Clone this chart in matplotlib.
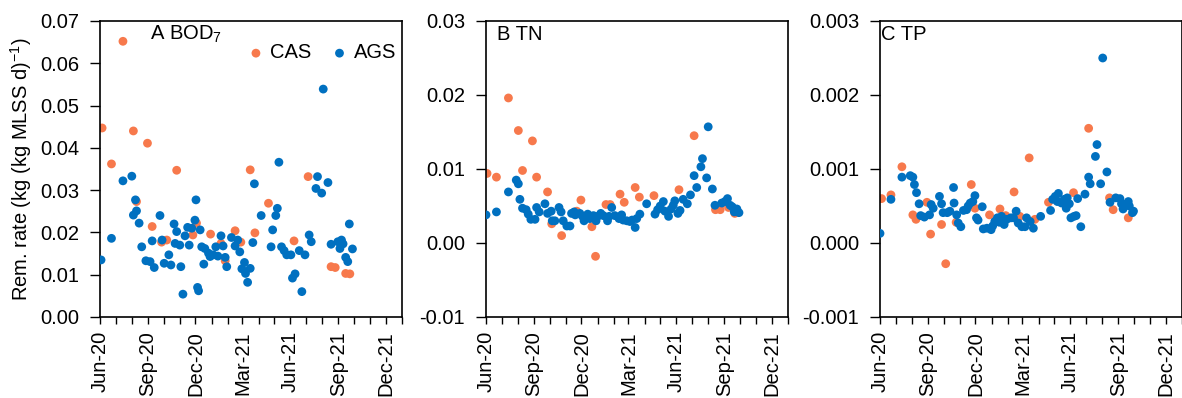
import numpy as np
import matplotlib
matplotlib.use("Agg")
import matplotlib.pyplot as plt
import matplotlib.dates as mdates
from matplotlib.ticker import FormatStrFormatter

plt.rcParams['font.family'] = ['Liberation Sans', 'DejaVu Sans']
plt.rcParams['mathtext.fontset'] = 'custom'
plt.rcParams['mathtext.rm'] = 'Liberation Sans'
plt.rcParams['mathtext.default'] = 'regular'

start = np.datetime64('2020-06-01')

# days since 1 Jun 2020, removal rate
bod_cas_day = [4, 22, 44, 64, 70, 91, 100, 118, 128, 147, 178, 185, 212, 232, 240, 259,
               270, 288, 297, 323, 372, 399, 443, 451, 471, 479]
bod_cas_val = [0.0447, 0.0362, 0.0652, 0.0440, 0.0273, 0.0411, 0.0214, 0.0177, 0.0182,
               0.0347, 0.0194, 0.0222, 0.0196, 0.0174, 0.0133, 0.0204, 0.0177, 0.0348,
               0.0199, 0.0269, 0.0180, 0.0332, 0.0119, 0.0117, 0.0103, 0.0102]

bod_ags_day = [2, 22, 44, 61, 68, 70, 64, 75, 80, 88, 96, 104, 100, 115, 119, 123, 132, 136,
               142, 147, 144, 153, 155, 159, 163, 168, 171, 176, 182, 184, 187, 189, 192, 195,
               199, 201, 208, 211, 217, 222, 226, 232, 236, 240, 243, 252, 259, 264, 268, 272,
               277, 279, 283, 288, 293, 296, 309, 328, 331, 337, 340, 343, 348, 353, 358, 366,
               369, 374, 382, 387, 393, 401, 405, 414, 417, 425, 428, 437, 443, 456, 460, 463,
               466, 471, 475, 478, 484]
bod_ags_val = [0.0135, 0.0186, 0.0322, 0.0333, 0.0277, 0.0251, 0.0241, 0.0222, 0.0166, 0.0133,
               0.0131, 0.0117, 0.0180, 0.0240, 0.0182, 0.0127, 0.0147, 0.0123, 0.0220, 0.0202,
               0.0174, 0.0170, 0.0119, 0.0054, 0.0192, 0.0212, 0.0170, 0.0210, 0.0229, 0.0277,
               0.0070, 0.0062, 0.0206, 0.0166, 0.0125, 0.0162, 0.0151, 0.0143, 0.0147, 0.0166,
               0.0144, 0.0192, 0.0168, 0.0141, 0.0119, 0.0188, 0.0168, 0.0182, 0.0154, 0.0114,
               0.0129, 0.0103, 0.0082, 0.0115, 0.0176, 0.0315, 0.0240, 0.0166, 0.0206, 0.0240,
               0.0257, 0.0366, 0.0166, 0.0157, 0.0147, 0.0147, 0.0092, 0.0102, 0.0157, 0.0060,
               0.0147, 0.0194, 0.0178, 0.0304, 0.0332, 0.0293, 0.0539, 0.0318, 0.0172, 0.0178,
               0.0162, 0.0182, 0.0173, 0.0141, 0.0131, 0.0220, 0.0161]

tn_cas_day = [2, 20, 43, 62, 70, 89, 97, 118, 126, 145, 174, 182, 203, 210, 230, 238, 257,
              265, 286, 294, 322, 370, 399, 440, 449, 465, 477]
tn_cas_val = [0.0094, 0.0089, 0.0196, 0.0152, 0.0098, 0.0138, 0.0089, 0.0069, 0.0026,
              0.0010, 0.0043, 0.0058, 0.0022, -0.0018, 0.0052, 0.0052, 0.0066, 0.0055,
              0.0075, 0.0062, 0.0064, 0.0072, 0.0145, 0.0045, 0.0045, 0.0048, 0.0040]

tn_ags_day = [0, 20, 43, 58, 62, 65, 70, 77, 81, 86, 94, 97, 102, 113, 118, 125, 127, 132,
              140, 144, 148, 155, 161, 164, 171, 169, 180, 185, 188, 195, 199, 206, 211, 214,
              220, 225, 233, 236, 241, 247, 255, 260, 263, 270, 276, 280, 286, 289, 295, 308,
              324, 329, 334, 340, 343, 350, 355, 359, 362, 368, 372, 378, 386, 392, 399, 404,
              412, 415, 423, 426, 434, 439, 452, 458, 463, 468, 472, 476, 481, 485]
tn_ags_val = [0.0038, 0.0042, 0.0069, 0.0085, 0.0080, 0.0059, 0.0047, 0.0045, 0.0039, 0.0032,
              0.0032, 0.0048, 0.0042, 0.0053, 0.0040, 0.0043, 0.0030, 0.0030, 0.0048, 0.0042,
              0.0030, 0.0023, 0.0023, 0.0040, 0.0038, 0.0042, 0.0040, 0.0036, 0.0030, 0.0039,
              0.0033, 0.0037, 0.0030, 0.0036, 0.0040, 0.0037, 0.0030, 0.0036, 0.0048, 0.0037,
              0.0033, 0.0038, 0.0031, 0.0030, 0.0029, 0.0031, 0.0021, 0.0033, 0.0039, 0.0053,
              0.0039, 0.0045, 0.0050, 0.0056, 0.0043, 0.0036, 0.0046, 0.0051, 0.0057, 0.0040,
              0.0044, 0.0059, 0.0053, 0.0065, 0.0091, 0.0075, 0.0103, 0.0114, 0.0088, 0.0157,
              0.0073, 0.0051, 0.0054, 0.0056, 0.0060, 0.0051, 0.0049, 0.0042, 0.0046, 0.0041]

tp_cas_day = [3, 21, 42, 63, 69, 90, 97, 118, 126, 146, 175, 182, 210, 230, 241, 257, 268,
              286, 297, 323, 371, 400, 440, 447, 476]
tp_cas_val = [0.00060, 0.00065, 0.00103, 0.00038, 0.00032, 0.00055, 0.00012, 0.00025,
              -0.00028, 0.00028, 0.00079, 0.00047, 0.00038, 0.00046, 0.00037, 0.00069,
              0.00036, 0.00115, 0.00032, 0.00055, 0.00068, 0.00155, 0.00061, 0.00045, 0.00034]

tp_ags_day = [0, 21, 42, 58, 63, 66, 70, 75, 78, 85, 95, 98, 102, 114, 118, 121, 129, 134,
              141, 142, 147, 150, 155, 160, 166, 169, 173, 178, 182, 185, 188, 196, 198, 205,
              213, 216, 220, 225, 229, 233, 238, 243, 251, 256, 261, 265, 272, 278, 281, 288,
              294, 308, 327, 331, 336, 340, 342, 348, 353, 357, 359, 363, 366, 372, 376, 379,
              385, 393, 400, 403, 413, 416, 423, 427, 435, 441, 452, 460, 463, 466, 470, 476,
              478, 484, 486]
tp_ags_val = [0.00013, 0.00059, 0.00089, 0.00091, 0.00089, 0.00079, 0.00068, 0.00053, 0.00037,
              0.00035, 0.00038, 0.00052, 0.00047, 0.00063, 0.00053, 0.00041, 0.00041, 0.00043,
              0.00075, 0.00054, 0.00038, 0.00027, 0.00022, 0.00044, 0.00045, 0.00050, 0.00054,
              0.00056, 0.00064, 0.00034, 0.00031, 0.00049, 0.00019, 0.00020, 0.00018, 0.00023,
              0.00029, 0.00034, 0.00028, 0.00036, 0.00025, 0.00032, 0.00034, 0.00034, 0.00043,
              0.00027, 0.00022, 0.00022, 0.00034, 0.00029, 0.00020, 0.00036, 0.00044, 0.00059,
              0.00063, 0.00056, 0.00067, 0.00054, 0.00059, 0.00047, 0.00061, 0.00053, 0.00034,
              0.00036, 0.00037, 0.00060, 0.00022, 0.00066, 0.00089, 0.00080, 0.00117, 0.00133,
              0.00080, 0.00250, 0.00096, 0.00055, 0.00061, 0.00060, 0.00053, 0.00046, 0.00052,
              0.00056, 0.00050, 0.00041, 0.00043]

cas_color = '#F7794C'
ags_color = '#0070C0'


def to_dates(days):
    return start + np.array(days, dtype='timedelta64[D]')


fig = plt.figure(figsize=(11.82, 3.98), dpi=100)
lefts = [100 / 1182, 486 / 1182, 880 / 1182]
panels = [
    (bod_cas_day, bod_cas_val, bod_ags_day, bod_ags_val, (0, 0.07), 0.01, '%.2f', 'A BOD$_7$', 0.166),
    (tn_cas_day, tn_cas_val, tn_ags_day, tn_ags_val, (-0.01, 0.03), 0.01, '%.2f', 'B TN', 0.036),
    (tp_cas_day, tp_cas_val, tp_ags_day, tp_ags_val, (-0.001, 0.003), 0.001, '%.3f', 'C TP', 0.004),
]

for i, (cd, cv, ad, av, ylim, ystep, fmt, title, tx) in enumerate(panels):
    ax = fig.add_axes([lefts[i], 81 / 398, 302 / 1182, 296 / 398])
    ax.scatter(to_dates(cd), cv, s=40, color=cas_color, edgecolors='none', label='CAS', zorder=2)
    ax.scatter(to_dates(ad), av, s=40, color=ags_color, edgecolors='none', label='AGS', zorder=3)
    ax.set_xlim(np.datetime64('2020-06-01'), np.datetime64('2022-01-01'))
    ax.set_ylim(*ylim)
    ax.set_yticks(np.arange(ylim[0], ylim[1] + ystep / 2, ystep))
    ax.yaxis.set_major_formatter(FormatStrFormatter(fmt))
    ax.xaxis.set_major_locator(mdates.MonthLocator(bymonth=[3, 6, 9, 12]))
    ax.xaxis.set_minor_locator(mdates.MonthLocator())
    ax.xaxis.set_major_formatter(mdates.DateFormatter('%b-%y'))
    ax.tick_params(axis='x', which='both', direction='out', length=5, width=1, labelsize=14.5,
                   labelrotation=90, pad=5)
    ax.tick_params(axis='y', direction='out', length=7, width=1, labelsize=14.5, pad=8)
    for sp in ax.spines.values():
        sp.set_linewidth(1.2)
    ax.text(tx, 0.955, title, transform=ax.transAxes, fontsize=14.5, va='center', ha='left')
    if i == 0:
        ax.set_ylabel('Rem. rate (kg (kg MLSS d)$^{-1}$)', fontsize=14.5, labelpad=4)
        ax.legend(loc='upper right', bbox_to_anchor=(1.02, 0.965), ncol=2, frameon=False,
                  fontsize=14.5, handlelength=0.8, handletextpad=0.3, columnspacing=1.0,
                  borderaxespad=0.2, scatterpoints=1)

fig.savefig('out.png', dpi=100)
